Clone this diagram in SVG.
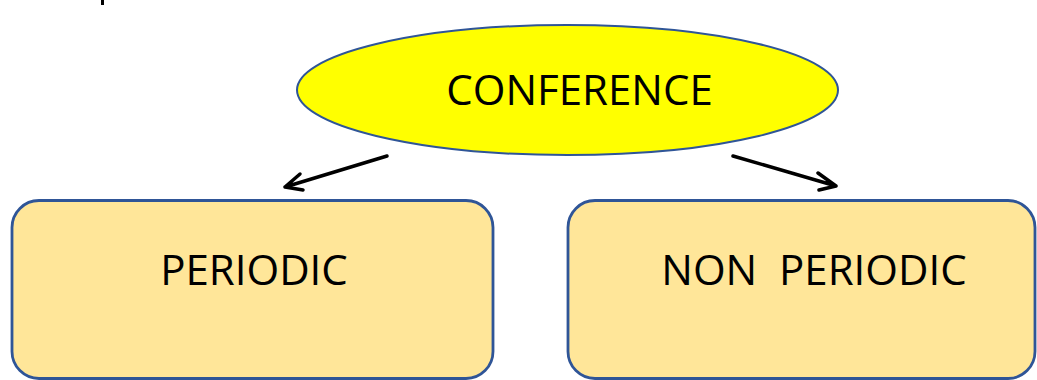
<svg xmlns="http://www.w3.org/2000/svg" width="1037" height="380" viewBox="0 0 1037 380">
<style>
.lbl{font-family:"Open Sans","Liberation Sans",sans-serif;font-size:42px;fill:#000;text-anchor:middle}
.box{fill:#FFE699;stroke:#2F5597;stroke-width:2.8}
.conn{stroke:#000;stroke-width:3.5;fill:none;stroke-linecap:round;stroke-linejoin:round}
</style>
<rect x="101" y="0" width="3" height="5" fill="#000"/>
<g id="conference">
<ellipse cx="567.5" cy="90" rx="270.5" ry="65" fill="#FFFF00" stroke="#2F5597" stroke-width="2"/>
<text class="lbl" x="579.5" y="105">CONFERENCE</text>
</g>
<g id="periodic">
<rect class="box" x="12" y="200.5" width="481" height="178" rx="27" ry="27"/>
<text class="lbl" x="254" y="285">PERIODIC</text>
</g>
<g id="nonperiodic">
<rect class="box" x="568" y="200.5" width="467" height="178" rx="27" ry="27"/>
<text class="lbl" x="814" y="285" xml:space="preserve">NON  PERIODIC</text>
</g>
<g id="connectors">
<path class="conn" d="M387 156 L285 187 M300 174 L285 187 L303 190"/>
<path class="conn" d="M733 156 L836 186 M818 173 L836 186 L819 190"/>
</g>
</svg>
